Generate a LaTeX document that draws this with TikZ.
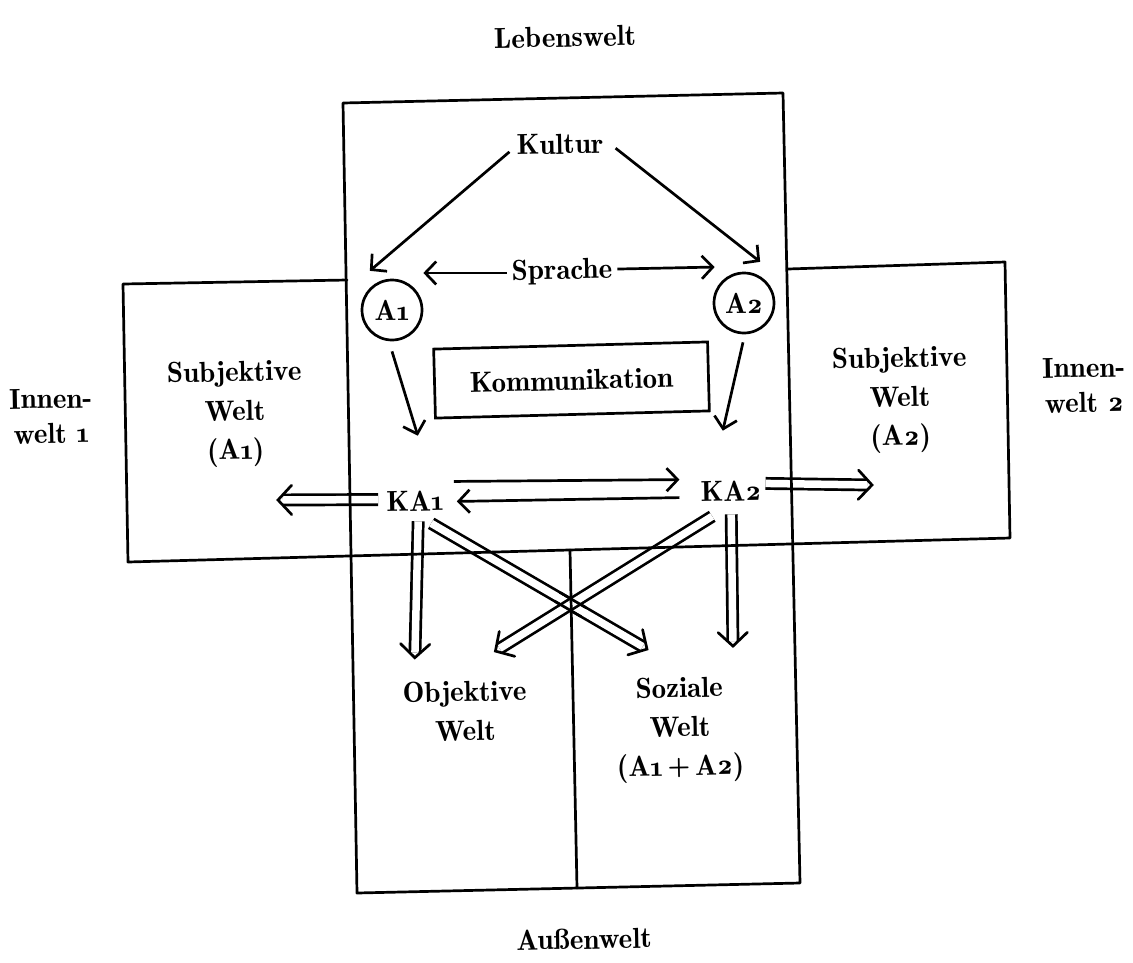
\documentclass[tikz,border=0pt]{standalone}
\usepackage{fontspec}
\setmainfont{lmromandemi10-regular.otf}[Numbers=OldStyle]
\usetikzlibrary{arrows.meta,calc}
\begin{document}
\begin{tikzpicture}[x=1pt,y=-1pt,
  lw/.style={line width=2.7pt},
  txt/.style={font=\fontsize{29}{33}\selectfont, inner sep=0pt, align=center, rotate=1.1},
  txttwo/.style={txt, font=\fontsize{29}{35}\selectfont},
  txtthree/.style={txt, font=\fontsize{29}{39}\selectfont},
  circ/.style={draw, lw, circle, minimum size=60pt, inner sep=0pt, font=\fontsize{29}{33}\selectfont},
  sarrow/.style={lw, -{Straight Barb[length=11pt,width=23pt]}},
  dshaft/.style={lw, double, double distance=7.5pt, shorten >=5pt},
  dhead/.style={lw, line cap=round},
  frame/.style={lw, line join=round, line cap=round},
]
\useasboundingbox (0,0) rectangle (1133,962);

% ---------- texts ----------
\node[txt] (leb) at (565,37) {Lebenswelt};
\node[txt] (kultur) at (560,144) {Kultur};
\node[txt] (sprache) at (562,272) {Sprache};
\node[circ] (A1) at (392,310) {A1};
\node[circ] (A2) at (744,303) {A2};
\node[txt, draw, lw, minimum width=274pt, minimum height=69pt, rotate=0.4] (komm) at (571.5,380) {Kommunikation};
\node[txt] (KA1) at (415,501) {KA1};
\node[txt] (KA2) at (731,491) {KA2};
\node[txtthree] (subj1) at (235,414) {Subjektive\\Welt\\(A1)};
\node[txtthree] (subj2) at (900,400) {Subjektive\\Welt\\(A2)};
\node[txttwo] (innen1) at (51,416) {Innen-\\welt 1};
\node[txttwo] (innen2) at (1084,385) {Innen-\\welt 2};
\node[txtthree] (obj) at (465,711) {Objektive\\Welt};
\node[txtthree] (soz) at (680,730) {Soziale\\Welt\\(A1\,+\,A2)};
\node[txt] (aussen) at (584,939) {Außenwelt};

% ---------- single arrows ----------
\draw[sarrow] ($(kultur.west)+(-7,7)$) -- ($(A1.north west)+(0,-17)$);
\draw[sarrow] ($(kultur.east)+(12,5)$) -- ($(A2.north east)+(-6,-19)$);
\draw[sarrow] ($(sprache.west)+(-5,0)$) -- (A1.east |- sprache.west);
\draw[sarrow] ($(sprache.east)+(5,-2)$) -- ($(A2.west |- sprache.east)+(2,-4)$);
\draw[sarrow] ($(A1.south)+(0,10)$) -- ($(KA1.north)+(3,-55)$);
\draw[sarrow] ($(A2.south)+(-1,8)$) -- ($(KA2.north)+(-8,-50)$);
\draw[sarrow] ($(KA1.east)+(10,-19)$) -- ($(KA2.west)+(-21,-12)$);
\draw[sarrow] ($(KA2.west)+(-21,6)$) -- ($(KA1.east)+(13,1)$);

% ---------- double arrows ----------
\coordinate (ls) at ($(KA1.west)+(-8,-2)$);
\coordinate (lt) at (278,500);
\coordinate (rs) at ($(KA2.east)+(4,-7)$);
\coordinate (rt) at (872,485);
\coordinate (v1s) at ($(KA1.south)+(3,10)$);
\coordinate (v1t) at ($(obj.north west)+(12.5,-24.6)$);
\coordinate (v2s) at ($(KA2.south)+(0,13)$);
\coordinate (v2t) at ($(soz.north)+(54,-31)$);
\coordinate (d1s) at ($(KA1.south)+(16,12)$);
\coordinate (d1t) at ($(soz.north)+(-32,-28)$);
\coordinate (d2s) at ($(KA2.south)+(-19,15)$);
\coordinate (d2t) at ($(obj.north)+(31,-30)$);
\foreach \s/\t in {ls/lt, rs/rt, v1s/v1t, v2s/v2t, d1s/d1t, d2s/d2t}{
  \draw[dshaft] (\s) -- (\t);
  \draw[dhead] ($(\t)!20pt!47:(\s)$) -- (\t) -- ($(\t)!20pt!-47:(\s)$);
}
\begin{scope}
  \clip (intersection of d1s--d1t and d2s--d2t) circle (16pt);
  \draw[lw] ($(d1s)!5.1pt!90:(d1t)$) -- ($(d1t)!5.1pt!-90:(d1s)$);
  \draw[lw] ($(d1s)!5.1pt!-90:(d1t)$) -- ($(d1t)!5.1pt!90:(d1s)$);
\end{scope}

% ---------- frames ----------
\draw[frame] (343,103) -- (783,93) -- (800,883) -- (357,893) -- cycle;
\draw[frame] (347,280) -- (123,284) -- (128,562) -- (1010,538) -- (1005,262) -- (788,269);
\draw[frame] (570,550) -- (577,888);
\end{tikzpicture}
\end{document}
